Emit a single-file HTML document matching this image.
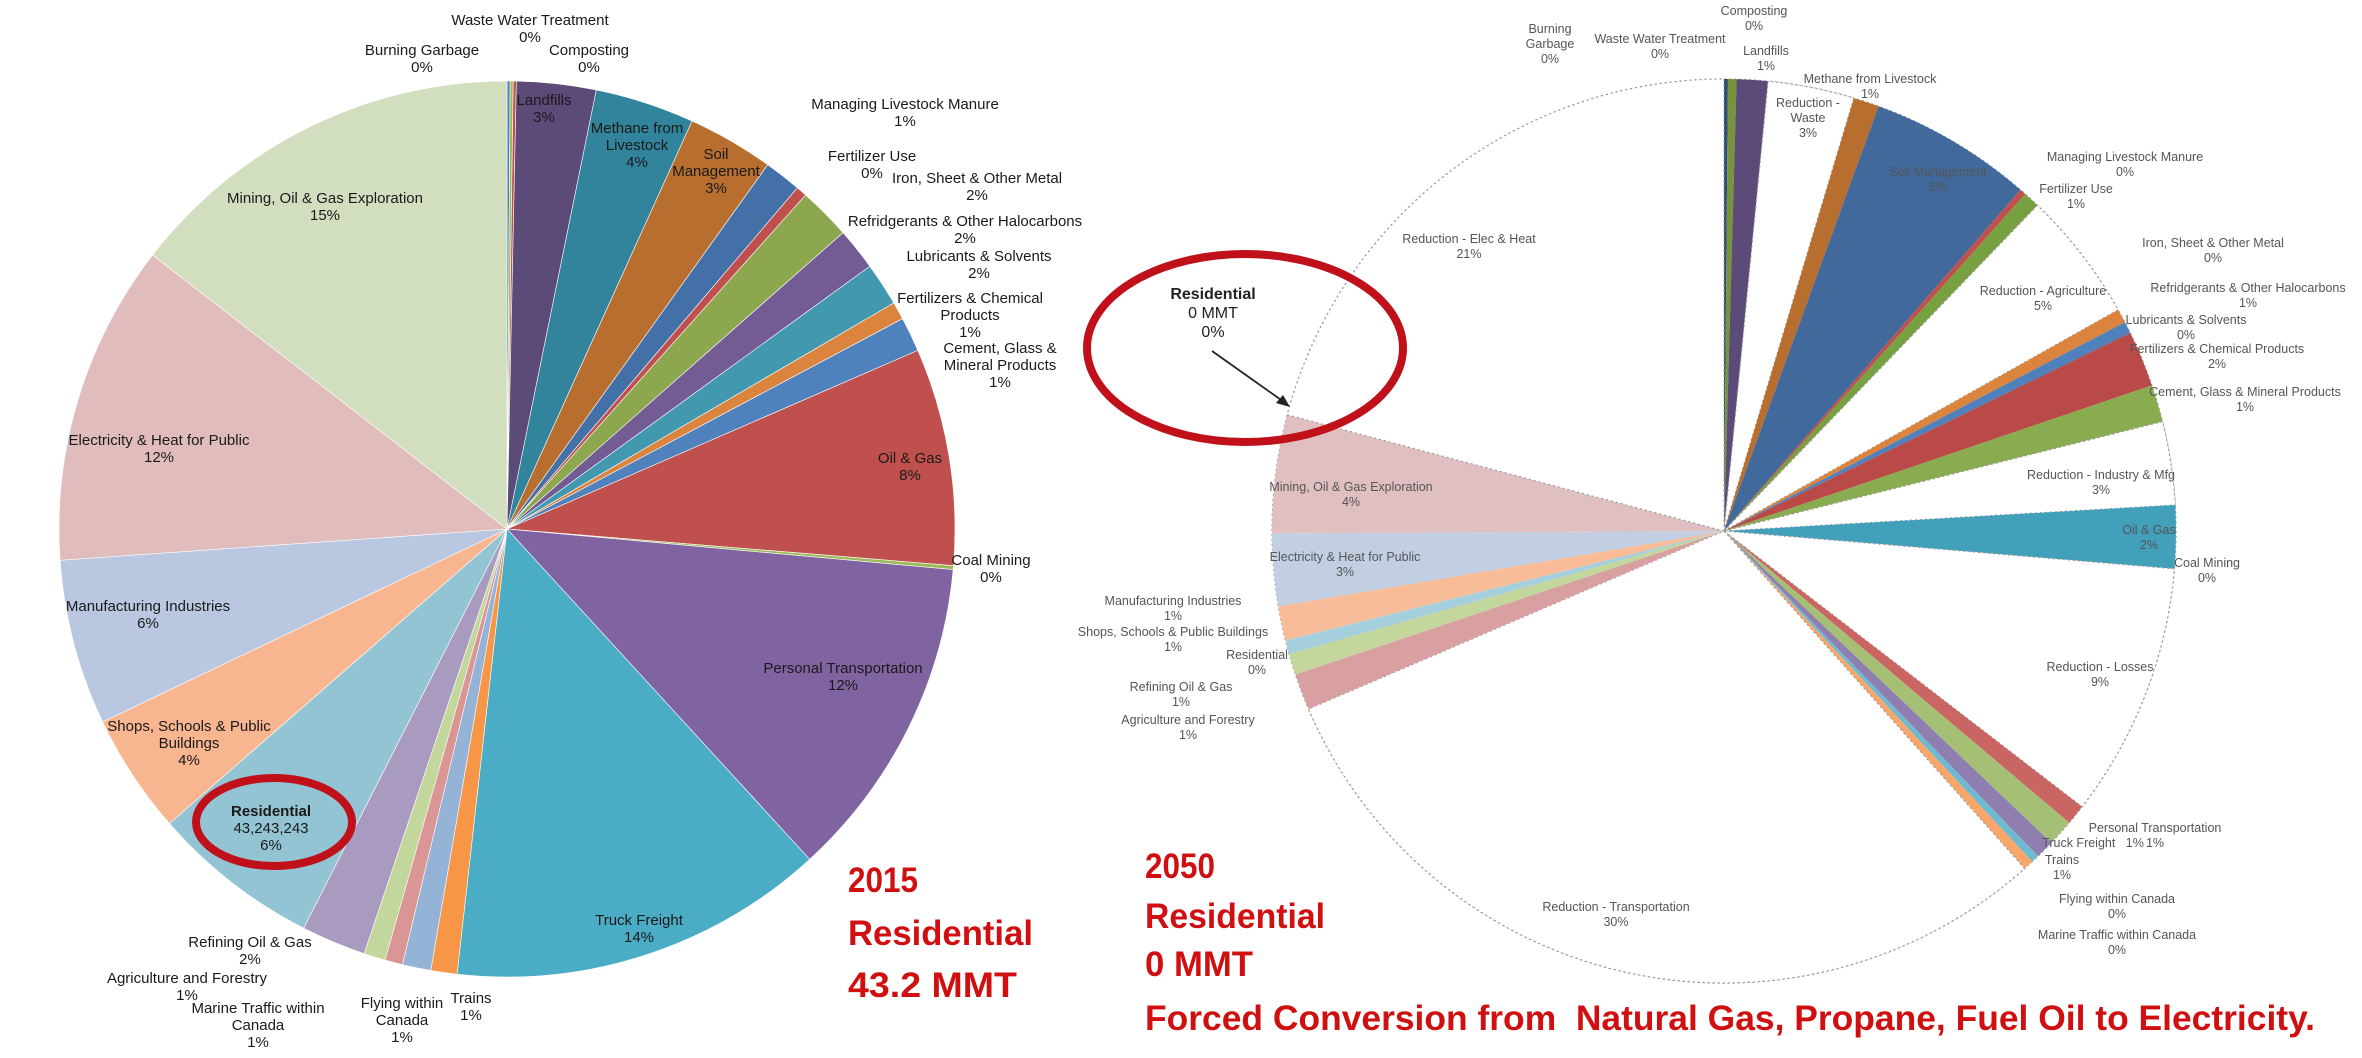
<!DOCTYPE html>
<html><head><meta charset="utf-8">
<style>
body{margin:0;background:#fff;}
#c{position:relative;width:2362px;height:1058px;overflow:hidden;background:#fff;font-family:"Liberation Sans",sans-serif;}
.l{position:absolute;transform:translateX(-50%);text-align:center;white-space:nowrap;font-size:15px;line-height:17px;color:#1a1a1a;}
.r{position:absolute;transform:translateX(-50%);text-align:center;white-space:nowrap;font-size:12.5px;line-height:15px;color:#555;}
.big{position:absolute;color:#d01010;font-family:"Liberation Sans",sans-serif;font-weight:bold;font-size:35px;line-height:44px;white-space:nowrap;transform-origin:0 50%;}
svg{position:absolute;left:0;top:0;}
</style></head><body><div id="c">
<svg id="s" width="2362" height="1058"></svg>
<div class="l" style="left:530px;top:12px">Waste Water Treatment<br>0%</div>
<div class="l" style="left:422px;top:42px">Burning Garbage<br>0%</div>
<div class="l" style="left:589px;top:42px">Composting<br>0%</div>
<div class="l" style="left:544px;top:92px">Landfills<br>3%</div>
<div class="l" style="left:637px;top:120px">Methane from<br>Livestock<br>4%</div>
<div class="l" style="left:716px;top:146px">Soil<br>Management<br>3%</div>
<div class="l" style="left:905px;top:96px">Managing Livestock Manure<br>1%</div>
<div class="l" style="left:872px;top:148px">Fertilizer Use<br>0%</div>
<div class="l" style="left:977px;top:170px">Iron, Sheet &amp; Other Metal<br>2%</div>
<div class="l" style="left:965px;top:213px">Refridgerants &amp; Other Halocarbons<br>2%</div>
<div class="l" style="left:979px;top:248px">Lubricants &amp; Solvents<br>2%</div>
<div class="l" style="left:970px;top:290px">Fertilizers &amp; Chemical<br>Products<br>1%</div>
<div class="l" style="left:1000px;top:340px">Cement, Glass &amp;<br>Mineral Products<br>1%</div>
<div class="l" style="left:910px;top:450px">Oil &amp; Gas<br>8%</div>
<div class="l" style="left:991px;top:552px">Coal Mining<br>0%</div>
<div class="l" style="left:843px;top:660px">Personal Transportation<br>12%</div>
<div class="l" style="left:639px;top:912px">Truck Freight<br>14%</div>
<div class="l" style="left:471px;top:990px">Trains<br>1%</div>
<div class="l" style="left:402px;top:995px">Flying within<br>Canada<br>1%</div>
<div class="l" style="left:258px;top:1000px">Marine Traffic within<br>Canada<br>1%</div>
<div class="l" style="left:187px;top:970px">Agriculture and Forestry<br>1%</div>
<div class="l" style="left:250px;top:934px">Refining Oil &amp; Gas<br>2%</div>
<div class="l" style="left:271px;top:803px"><b>Residential</b><br>43,243,243<br>6%</div>
<div class="l" style="left:189px;top:718px">Shops, Schools &amp; Public<br>Buildings<br>4%</div>
<div class="l" style="left:148px;top:598px">Manufacturing Industries<br>6%</div>
<div class="l" style="left:159px;top:432px">Electricity &amp; Heat for Public<br>12%</div>
<div class="l" style="left:325px;top:190px">Mining, Oil &amp; Gas Exploration<br>15%</div>
<div class="big" data-w="70" style="left:848px;top:859px">2015</div>
<div class="big" data-w="185" style="left:848px;top:912px">Residential</div>
<div class="big" data-w="169" style="left:848px;top:964px">43.2 MMT</div>
<div class="r" style="left:1754px;top:4px">Composting<br>0%</div>
<div class="r" style="left:1550px;top:22px">Burning<br>Garbage<br>0%</div>
<div class="r" style="left:1660px;top:32px">Waste Water Treatment<br>0%</div>
<div class="r" style="left:1766px;top:44px">Landfills<br>1%</div>
<div class="r" style="left:1870px;top:72px">Methane from Livestock<br>1%</div>
<div class="r" style="left:1808px;top:96px">Reduction -<br>Waste<br>3%</div>
<div class="r" style="left:1938px;top:165px">Soil Management<br>6%</div>
<div class="r" style="left:2125px;top:150px">Managing Livestock Manure<br>0%</div>
<div class="r" style="left:2076px;top:182px">Fertilizer Use<br>1%</div>
<div class="r" style="left:1469px;top:232px">Reduction - Elec &amp; Heat<br>21%</div>
<div class="r" style="left:2213px;top:236px">Iron, Sheet &amp; Other Metal<br>0%</div>
<div class="r" style="left:2248px;top:281px">Refridgerants &amp; Other Halocarbons<br>1%</div>
<div class="r" style="left:2043px;top:284px">Reduction - Agriculture<br>5%</div>
<div class="r" style="left:2186px;top:313px">Lubricants &amp; Solvents<br>0%</div>
<div class="r" style="left:2217px;top:342px">Fertilizers &amp; Chemical Products<br>2%</div>
<div class="r" style="left:2245px;top:385px">Cement, Glass &amp; Mineral Products<br>1%</div>
<div class="r" style="left:2101px;top:468px">Reduction - Industry &amp; Mfg<br>3%</div>
<div class="r" style="left:2149px;top:523px">Oil &amp; Gas<br>2%</div>
<div class="r" style="left:2207px;top:556px">Coal Mining<br>0%</div>
<div class="r" style="left:2100px;top:660px">Reduction - Losses<br>9%</div>
<div class="r" style="left:2155px;top:821px">Personal Transportation<br>1%</div>
<div class="r" style="left:2093px;top:836px">Truck Freight &nbsp; 1%</div>
<div class="r" style="left:2062px;top:853px">Trains<br>1%</div>
<div class="r" style="left:2117px;top:892px">Flying within Canada<br>0%</div>
<div class="r" style="left:2117px;top:928px">Marine Traffic within Canada<br>0%</div>
<div class="r" style="left:1616px;top:900px">Reduction - Transportation<br>30%</div>
<div class="r" style="left:1351px;top:480px">Mining, Oil &amp; Gas Exploration<br>4%</div>
<div class="r" style="left:1345px;top:550px">Electricity &amp; Heat for Public<br>3%</div>
<div class="r" style="left:1173px;top:594px">Manufacturing Industries<br>1%</div>
<div class="r" style="left:1173px;top:625px">Shops, Schools &amp; Public Buildings<br>1%</div>
<div class="r" style="left:1257px;top:648px">Residential<br>0%</div>
<div class="r" style="left:1181px;top:680px">Refining Oil &amp; Gas<br>1%</div>
<div class="r" style="left:1188px;top:713px">Agriculture and Forestry<br>1%</div>
<div class="l" style="left:1213px;top:285px;font-size:16px;line-height:19px;color:#222"><b>Residential</b><br>0 MMT<br>0%</div>
<div class="big" data-w="70" style="left:1145px;top:845px">2050</div>
<div class="big" data-w="180" style="left:1145px;top:895px">Residential</div>
<div class="big" data-w="108" style="left:1145px;top:943px">0 MMT</div>
<div class="big" data-w="1170" style="left:1145px;top:997px">Forced Conversion from&nbsp; Natural Gas, Propane, Fuel Oil to Electricity.</div>
</div>
<script>
var s=document.getElementById('s'),NS='http://www.w3.org/2000/svg';
function el(t,a){var e=document.createElementNS(NS,t);for(var k in a)e.setAttribute(k,a[k]);s.appendChild(e);return e;}
function pt(cx,cy,r,a){a=a*Math.PI/180;return [cx+r*Math.sin(a),cy-r*Math.cos(a)];}
function pie(cx,cy,r,list,dashed){var a0=list[0][0];
for(var i=0;i<list.length;i++){var a=list[i][0],b=(i+1<list.length?list[i+1][0]:a0+360),c=list[i][1];
var p=pt(cx,cy,r,a),q=pt(cx,cy,r,b),lg=(b-a)>180?1:0;
var d='M'+cx+','+cy+'L'+p[0]+','+p[1]+'A'+r+','+r+' 0 '+lg+' 1 '+q[0]+','+q[1]+'Z';
if(c=='none'){el('path',{d:d,fill:'#fff',stroke:'#999','stroke-width':1.2,'stroke-dasharray':'2,3'});}
else el('path',{d:d,fill:c,stroke:dashed?'none':'#fff','stroke-width':dashed?0:0.6});}}
pie(507,529,448,[[0,'#4f81bd'],[0.4,'#9bbb59'],[0.8,'#c0504d'],[1.2,'#5c4a78'],[11.5,'#31849b'],[24.4,'#b86e2e'],[35.6,'#4470a8'],[40.4,'#c0504d'],[41.8,'#8da74f'],[48.6,'#735b93'],[54.1,'#4198af'],[59.7,'#db843d'],[62,'#4f81bd'],[66.5,'#c0504d'],[94.7,'#9bbb59'],[95.2,'#8064a2'],[137.5,'#4bacc6'],[186.4,'#f79646'],[189.8,'#95b3d7'],[193.5,'#d99694'],[195.8,'#c3d69b'],[198.6,'#a99bc0'],[207,'#93c4d4'],[228.9,'#f7b590'],[244.5,'#b9c7e0'],[266,'#e0bcbc'],[307.7,'#d2dfbf']]);
el('circle',{cx:1724,cy:531,r:452,fill:'none',stroke:'#999','stroke-width':1.2,'stroke-dasharray':'2,3'});
pie(1724,531,452,[[0,'#2c4d75'],[0.5,'#77933c'],[1.6,'#5c4a78'],[5.6,'none'],[16.7,'#b86e2e'],[20,'#41699c'],[41,'#c0504d'],[41.8,'#77a040'],[43.9,'none'],[60.7,'#db843d'],[62.5,'#4f81bd'],[64,'#b94a48'],[71.2,'#8aac50'],[76,'none'],[86.7,'#42a0bb'],[94.8,'none'],[127.6,'#c96664'],[130.2,'#a5c075'],[133.6,'#8f7fb0'],[136,'#6fbad0'],[137,'#f9a66a'],[138.3,'none'],[246.8,'#d8a0a0'],[251.5,'#c3d69b'],[254.2,'#a5cfdc'],[256,'#f8bc98'],[260.4,'#c2cfe3'],[269.7,'#e0bfc0'],[284.9,'none']],true);
el('ellipse',{cx:274,cy:822,rx:78,ry:44,fill:'none',stroke:'#c0101a','stroke-width':8});
el('ellipse',{cx:1245,cy:348,rx:158,ry:94,fill:'none',stroke:'#c0101a','stroke-width':8});
el('line',{x1:1212,y1:351,x2:1284,y2:402,stroke:'#222','stroke-width':1.8});
el('path',{d:'M1290,407L1276,403L1283,395Z',fill:'#222'});
var bs=document.querySelectorAll('.big');
for(var i=0;i<bs.length;i++){var w=bs[i].getBoundingClientRect().width,t=+bs[i].getAttribute('data-w');bs[i].style.transform='scaleX('+(t/w)+')';}
</script>
</body></html>
